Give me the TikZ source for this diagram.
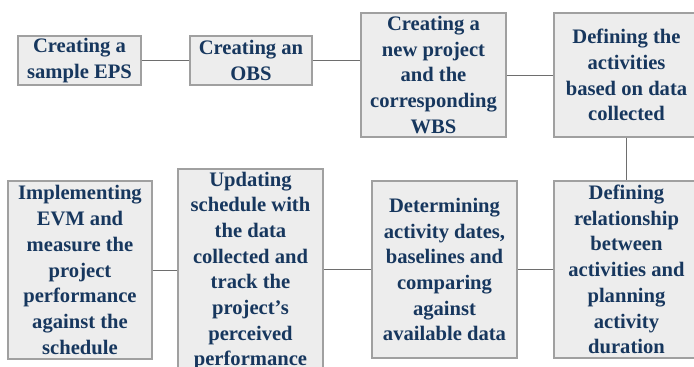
\documentclass[tikz,border=0pt]{standalone}
\usepackage{fontspec}
\setmainfont{Liberation Serif}
\usetikzlibrary{calc}

\definecolor{boxfill}{HTML}{EDEDED}
\definecolor{boxline}{HTML}{A0A0A0}
\definecolor{linkline}{HTML}{6E6E6E}
\definecolor{textblue}{HTML}{17375E}

\tikzset{
  stepbox/.style={draw=boxline, fill=boxfill, line width=1.2pt, text=textblue,
    align=center, inner sep=0pt, font=\bfseries\fontsize{20.6}{25.7}\selectfont},
  link/.style={draw=linkline, line width=1pt}
}

\begin{document}
\begin{tikzpicture}[x=1pt,y=-1pt]
\useasboundingbox (0,0) rectangle (694,367);

\node[stepbox, minimum width=123pt, minimum height=49pt] (eps) at (79.5,60.5) {Creating a\\sample EPS};
\node[stepbox, minimum width=122pt, minimum height=49pt] (obs) at (251,60.5) {Creating an\\OBS};
\node[stepbox, minimum width=145pt, minimum height=124pt] (wbs) at (433.5,75) {Creating a\\new project\\and the\\corresponding\\WBS};
\node[stepbox, minimum width=145pt, minimum height=124pt] (act) at (626.5,75) {Defining the\\activities\\based on data\\collected};

\node[stepbox, minimum width=145pt, minimum height=177pt] (rel) at (626.5,269.5) {Defining\\relationship\\between\\activities and\\planning\\activity\\duration};
\node[stepbox, minimum width=145pt, minimum height=177pt] (dates) at (444.5,269.5) {Determining\\activity dates,\\baselines and\\comparing\\against\\available data};
\node[stepbox, minimum width=145pt, minimum height=204pt] (upd) at (250.5,271) {Updating\\schedule with\\the data\\collected and\\track the\\project’s\\perceived\\performance};
\node[stepbox, minimum width=144pt, minimum height=178pt] (evm) at (80,270) {Implementing\\EVM and\\measure the\\project\\performance\\against the\\schedule};

\draw[link] (eps.east) -- (obs.west);
\draw[link] (obs.east) -- (obs.east -| wbs.west);
\draw[link] (wbs.east) -- (act.west);
\draw[link] (act.south) -- (rel.north);
\draw[link] (rel.west) -- (dates.east);
\draw[link] (dates.west) -- (dates.west -| upd.east);
\draw[link] (evm.east) -- (evm.east -| upd.west);
\end{tikzpicture}
\end{document}
